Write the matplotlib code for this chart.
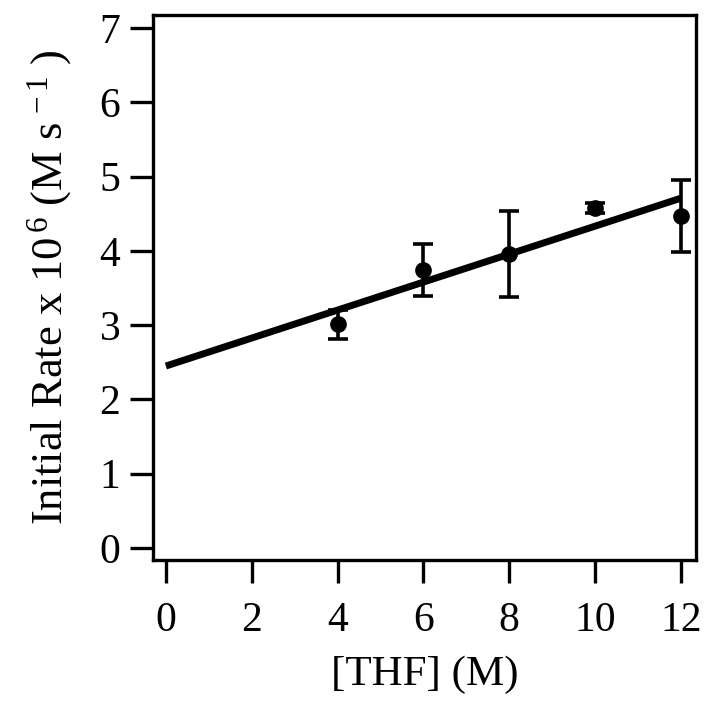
import matplotlib
matplotlib.use("Agg")
import matplotlib.pyplot as plt
import numpy as np

# Données
thf = [4, 6, 8, 10, 12]
taux = [3.01, 3.74, 3.96, 4.58, 4.47]
erreur = [0.19, 0.35, 0.58, 0.07, 0.48]
ajust_x = [0, 12]
ajust_y = [2.45, 4.71]
xticks = [0, 2, 4, 6, 8, 10, 12]
yticks = [0, 1, 2, 3, 4, 5, 6, 7]

plt.rcParams['font.family'] = ['Liberation Serif', 'DejaVu Serif']
plt.rcParams['mathtext.fontset'] = 'custom'
plt.rcParams['mathtext.rm'] = 'Liberation Serif'
plt.rcParams['mathtext.it'] = 'Liberation Serif:italic'

fig = plt.figure(figsize=(7.12, 7.08), dpi=100)
ax = fig.add_axes([0.2149, 0.2097, 0.7626, 0.769])

ax.plot(ajust_x, ajust_y, color='black', lw=5, solid_capstyle='butt')
ax.errorbar(thf, taux, yerr=erreur, fmt='o', color='black', ms=11,
            elinewidth=2.6, capsize=7.5, capthick=2.6)

ax.set_xlim(-0.30, 12.35)
ax.set_ylim(-0.155, 7.175)
ax.set_xticks(xticks)
ax.set_yticks(yticks)
for s in ax.spines.values():
    s.set_linewidth(2.4)
ax.tick_params(direction='out', length=16.5, width=2.4, labelsize=30)
ax.tick_params(axis='x', pad=14)
ax.tick_params(axis='y', pad=7)

ax.set_xlabel("[THF] (M)", fontsize=31, labelpad=11)
ax.set_ylabel(r"Initial Rate x 10$^{\,6}$ (M s$^{\,-1}$ )", fontsize=32, labelpad=18)

plt.savefig("out.png", dpi=100)
